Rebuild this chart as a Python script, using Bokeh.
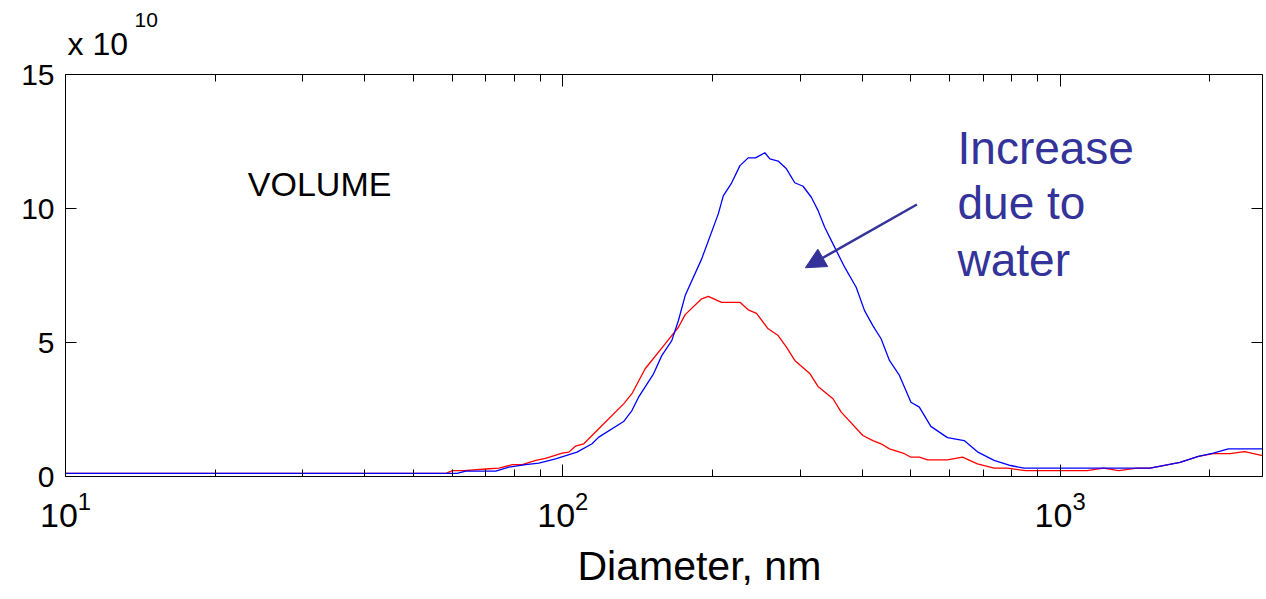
from bokeh.plotting import figure
from bokeh.models import (Range1d, FixedTicker, LogAxis, LinearAxis, Label,
                          Arrow, NormalHead, CustomJSTickFormatter, Title)
from bokeh.embed import file_html
from bokeh.resources import INLINE

# ---- data (volume distribution, units of 1e10) ----
blue_d = [10, 61.3, 63.8, 73.3, 77.9, 84.2, 89.5, 96.7, 106.8, 114.5, 118.1,
          132.5, 137.7, 142.0, 152.2, 158.1, 165.6, 170.8, 176.2, 190.2, 205.4,
          210.2, 218.4, 227.1, 235.9, 244.0, 254.8, 260.8, 271.0, 281.6, 292.7,
          304.1, 316.0, 325.9, 336.2, 349.3, 368.7, 388.9, 404.3, 420.1, 436.5,
          453.7, 475.2, 501.2, 521.0, 549.6, 593.5, 641.2, 681.9, 736.5, 795.2,
          845.8, 1517, 1742, 1897, 2032, 2178, 2552]
blue_v = [0.12, 0.12, 0.20, 0.20, 0.35, 0.44, 0.50, 0.66, 0.91, 1.22, 1.47,
          2.05, 2.46, 2.96, 3.83, 4.51, 5.07, 5.82, 6.75, 8.12, 9.80,
          10.47, 10.95, 11.60, 11.89, 11.89, 12.08, 11.85, 11.77, 11.48, 10.96,
          10.83, 10.42, 9.93, 9.30, 8.68, 7.81, 7.06, 6.19, 5.63, 5.14,
          4.33, 3.77, 2.77, 2.59, 1.87, 1.45, 1.34, 0.92, 0.60, 0.41,
          0.31, 0.31, 0.53, 0.75, 0.87, 1.03, 1.03]

red_d = [10, 58.2, 60.0, 63.3, 71.1, 74.4, 79.1, 82.9, 88.2, 92.3, 99.7,
         102.8, 106.0, 110.2, 118.1, 132.5, 137.7, 146.4, 160.6, 170.8, 176.2,
         190.2, 196.1, 208.5, 227.1, 235.9, 245.2, 258.7, 271.0, 281.6, 292.7,
         314.1, 325.9, 349.3, 362.9, 401.1, 420.1, 436.5, 453.7, 486.3, 501.2,
         521.0, 541.4, 593.5, 636.3, 681.9, 736.5, 783.2, 852.2, 1133, 1223,
         1311, 1427, 1517, 1742, 1897, 2032, 2194, 2350, 2552]
red_v = [0.12, 0.12, 0.22, 0.22, 0.29, 0.31, 0.44, 0.44, 0.60, 0.68, 0.87,
         0.91, 1.13, 1.22, 1.78, 2.71, 3.09, 4.02, 4.95, 5.57, 6.04,
         6.63, 6.72, 6.50, 6.50, 6.22, 6.09, 5.51, 5.26, 4.83, 4.33,
         3.83, 3.36, 2.90, 2.40, 1.53, 1.34, 1.22, 1.03, 0.85, 0.72,
         0.72, 0.62, 0.62, 0.72, 0.47, 0.31, 0.31, 0.22, 0.22, 0.31,
         0.22, 0.31, 0.31, 0.53, 0.75, 0.85, 0.85, 0.93, 0.78]

x_major = [10, 100, 1000]
x_minor = [m * dec for dec in (10, 100, 1000) for m in range(2, 10)]
y_ticks = [0, 5, 10, 15]

FONT = "Liberation Sans"
ANN = "#333399"

p = figure(width=1266, height=599, x_axis_type="log",
           x_range=Range1d(10, 2552), y_range=Range1d(0, 15),
           output_backend="svg", toolbar_location=None,
           min_border_left=65, min_border_right=0,
           min_border_top=74, min_border_bottom=123)
p.outline_line_color = None
p.xgrid.visible = False
p.ygrid.visible = False
p.background_fill_color = "white"
p.border_fill_color = "white"

xt = FixedTicker(ticks=x_major, minor_ticks=x_minor)
yt = FixedTicker(ticks=y_ticks, minor_ticks=[])
blank = CustomJSTickFormatter(code="return ' ';")

def style_x(ax, labels):
    ax.ticker = xt
    ax.axis_line_color = "black"
    ax.major_tick_in = 12
    ax.major_tick_out = 0
    ax.minor_tick_in = 7
    ax.minor_tick_out = 0
    ax.major_tick_line_color = "black"
    ax.minor_tick_line_color = "black"
    if labels:
        ax.major_label_text_font = FONT
        ax.major_label_text_font_size = "34px"
        ax.major_label_text_color = "black"
        ax.major_label_standoff = 15
    else:
        ax.formatter = blank
        ax.major_label_text_font_size = "2px"
        ax.major_label_standoff = 0

def style_y(ax, labels):
    ax.ticker = yt
    ax.axis_line_color = "black"
    ax.major_tick_in = 11
    ax.major_tick_out = 0
    ax.minor_tick_line_color = None
    ax.major_tick_line_color = "black"
    if labels:
        ax.major_label_text_font = FONT
        ax.major_label_text_font_size = "30px"
        ax.major_label_text_color = "black"
        ax.major_label_standoff = 11
    else:
        ax.formatter = blank
        ax.major_label_text_font_size = "2px"
        ax.major_label_standoff = 0

style_x(p.xaxis[0], True)
style_y(p.yaxis[0], True)

top = LogAxis()
style_x(top, False)
p.add_layout(top, "above")
right = LinearAxis()
style_y(right, False)
p.add_layout(right, "right")

# multiplier "x 10^10" above the frame
p.add_layout(Title(text="x 10", align="left", offset=2, standoff=16,
                   text_font=FONT, text_font_size="32px",
                   text_font_style="normal", text_color="black"), "above")
p.add_layout(Title(text="10", align="left", offset=69, standoff=-23,
                   text_font=FONT, text_font_size="21px",
                   text_font_style="normal", text_color="black"), "above")

# x-axis title
p.add_layout(Title(text="Diameter, nm", align="left", offset=512, standoff=22,
                   text_font=FONT, text_font_size="41px",
                   text_font_style="normal", text_color="black"), "below")

p.line(red_d, red_v, line_color="#ff0000", line_width=1.3)
p.line(blue_d, blue_v, line_color="#0000ff", line_width=1.3)

p.add_layout(Label(x=23.26, y=10.90, text="VOLUME", text_font=FONT,
                   text_font_size="34px", text_color="black",
                   text_baseline="alphabetic"))

for txt, yy in (("Increase", 12.25), ("due to", 10.20), ("water", 8.07)):
    p.add_layout(Label(x=621.8, y=yy, text=txt, text_font=FONT,
                       text_font_size="46px", text_color=ANN,
                       text_baseline="alphabetic"))

p.add_layout(Arrow(end=NormalHead(size=20, fill_color=ANN, line_color=ANN),
                   x_start=515.2, y_start=10.15, x_end=307.4, y_end=7.79,
                   line_color=ANN, line_width=2.5))

open("out.html", "w").write(file_html(p, INLINE))
